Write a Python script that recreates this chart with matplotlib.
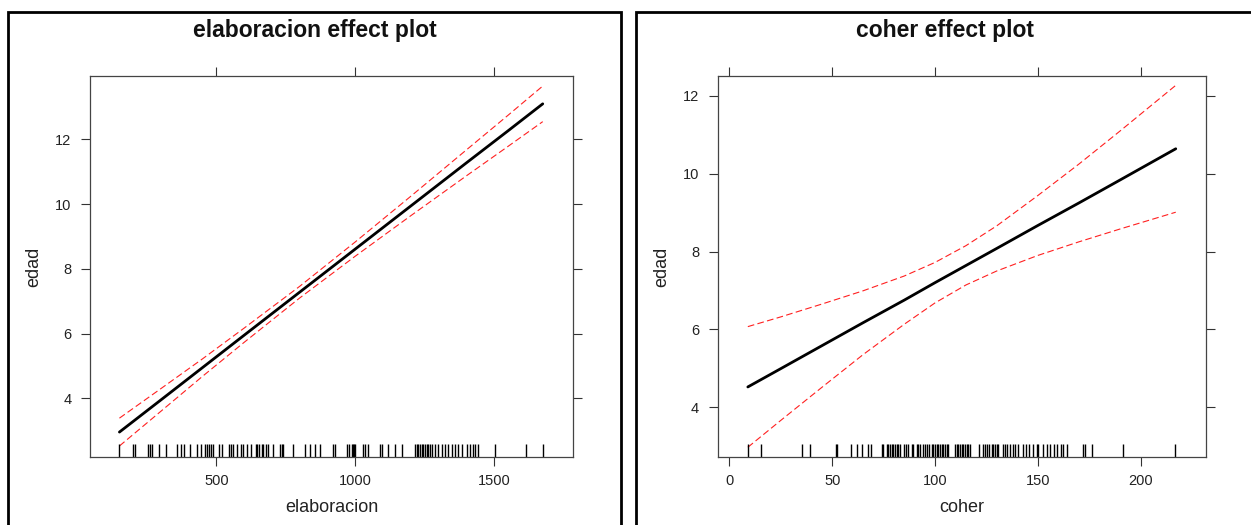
import matplotlib
matplotlib.use("Agg")
import matplotlib.pyplot as plt
from matplotlib.patches import Rectangle

plt.rcParams['font.family'] = ['Liberation Sans', 'DejaVu Sans']

# ---- datos ----
# efecto de elaboracion
elab_x = [151, 300, 450, 600, 800, 1000, 1200, 1400, 1550, 1676]
elab_fit = [2.96, 3.95, 4.95, 5.95, 7.28, 8.61, 9.94, 11.27, 12.26, 13.10]
elab_lo = [2.53, 3.60, 4.68, 5.73, 7.10, 8.39, 9.64, 10.87, 11.78, 12.55]
elab_hi = [3.39, 4.30, 5.22, 6.17, 7.46, 8.83, 10.24, 11.67, 12.74, 13.65]
elab_rug = [151, 201, 207, 255, 261, 267, 294, 319, 360, 372, 384, 405, 429, 444,
            459, 468, 475, 480, 487, 511, 519, 547, 552, 559, 573, 588, 597, 609,
            624, 643, 648, 655, 663, 669, 679, 687, 705, 729, 736, 741, 777, 820,
            838, 856, 874, 921, 928, 970, 979, 988, 991, 996, 1000, 1030, 1036,
            1048, 1090, 1096, 1120, 1144, 1168, 1216, 1222, 1228, 1234, 1240,
            1246, 1252, 1258, 1264, 1270, 1276, 1288, 1300, 1312, 1324, 1336,
            1348, 1360, 1372, 1384, 1402, 1414, 1426, 1432, 1444, 1504, 1616, 1676]

# efecto de coher
coher_x = [9, 25, 45, 65, 85, 100, 115, 130, 150, 170, 190, 217]
coher_fit = [4.52, 4.99, 5.58, 6.17, 6.75, 7.20, 7.64, 8.08, 8.67, 9.25, 9.84, 10.64]
coher_lo = [2.97, 3.66, 4.51, 5.35, 6.13, 6.68, 7.14, 7.50, 7.90, 8.25, 8.58, 9.01]
coher_hi = [6.07, 6.32, 6.65, 6.99, 7.37, 7.72, 8.15, 8.66, 9.44, 10.25, 11.10, 12.27]
coher_rug = [8.9, 15.4, 35.2, 39.2, 51.7, 52.5, 59.0, 61.9, 64.3, 67.6, 68.7, 74.1,
             74.9, 76.5, 77.3, 78.1, 78.9, 79.7, 80.5, 81.3, 82.2, 83.0, 84.9, 85.9,
             87.0, 88.6, 89.5, 91.1, 91.9, 92.7, 94.0, 95.1, 95.9, 97.2, 98.4, 99.2,
             100.0, 100.8, 101.6, 102.4, 103.2, 104.0, 104.8, 105.7, 106.5, 109.7,
             110.5, 111.3, 112.1, 112.9, 113.8, 114.6, 115.4, 116.2, 117.0, 121.5,
             123.2, 124.3, 125.4, 126.4, 127.5, 128.3, 129.2, 130.0, 130.8, 132.9,
             134.0, 135.1, 136.4, 137.7, 138.9, 140.5, 142.6, 144.2, 145.8, 147.8,
             149.4, 150.2, 152.7, 154.3, 155.9, 157.8, 159.1, 161.1, 162.0, 164.0,
             171.8, 172.9, 176.1, 191.2, 216.7]

W, H = 1251, 525
fig = plt.figure(figsize=(W / 100, H / 100), dpi=100)


def px_box(x0, y0, x1, y1):
    # caja en pixeles (origen arriba a la izquierda) -> fraccion de figura
    return [x0 / W, 1 - y1 / H, (x1 - x0) / W, (y1 - y0) / H]


def panel(box, frame, x, fit, lo, hi, rug, xlim, ylim, xticks, title, xlabel):
    # marco exterior del panel
    fx0, fy0, fx1, fy1 = frame
    fig.add_artist(Rectangle((fx0 / W, 1 - fy1 / H), (fx1 - fx0) / W, (fy1 - fy0) / H,
                             transform=fig.transFigure, fill=False, ec='black',
                             lw=2.0, clip_on=False))
    fig.text((fx0 + fx1) / 2 / W, 1 - 30 / H, title, ha='center', va='center',
             fontsize=16.5, fontweight='bold', color='#111111')

    ax = fig.add_axes(px_box(*box))
    ax.plot(x, fit, color='black', lw=2.0, solid_capstyle='round')
    ax.plot(x, lo, color='#ff2020', lw=0.8, dashes=(6, 3))
    ax.plot(x, hi, color='#ff2020', lw=0.8, dashes=(6, 3))
    ax.vlines(rug, 0, 0.033, transform=ax.get_xaxis_transform(), color='black', lw=1.0)

    ax.set_xlim(*xlim)
    ax.set_ylim(*ylim)
    ax.set_xticks(xticks)
    ax.set_yticks([4, 6, 8, 10, 12])
    ax.tick_params(direction='out', length=6.5, width=0.8, color='#333333',
                   labelsize=10.5, labelcolor='#222222', top=True, right=True,
                   labeltop=False, labelright=False)
    ax.tick_params(axis='x', pad=6)
    ax.tick_params(axis='y', pad=7)
    for s in ax.spines.values():
        s.set_color('#444444')
        s.set_linewidth(0.9)
    ax.set_xlabel(xlabel, fontsize=13, color='#222222', labelpad=8)
    ax.set_ylabel('edad', fontsize=13, color='#222222', labelpad=9)
    return ax


panel((90, 76, 573, 457), (8, 12, 621, 540), elab_x, elab_fit, elab_lo, elab_hi,
      elab_rug, (45, 1785), (2.19, 13.96), [500, 1000, 1500],
      'elaboracion effect plot', 'elaboracion')
panel((718, 76, 1206, 457), (636, 12, 1254, 540), coher_x, coher_fit, coher_lo,
      coher_hi, coher_rug, (-5.5, 231.7), (2.72, 12.51), [0, 50, 100, 150, 200],
      'coher effect plot', 'coher')

fig.savefig('out.png', dpi=100)
